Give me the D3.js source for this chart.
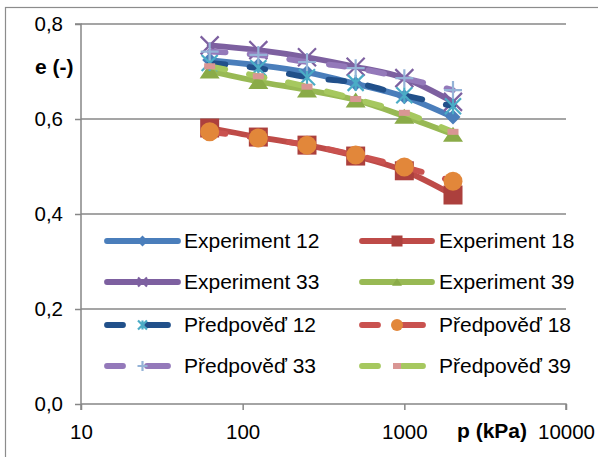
<!DOCTYPE html>
<html><head><meta charset="utf-8">
<script src="https://cdn.jsdelivr.net/npm/d3@7"></script>
<style>
html,body{margin:0;padding:0;background:#fff;}
svg{display:block;font-family:"Liberation Sans",Arial,sans-serif;}
</style></head>
<body><svg id="c" width="598" height="457"></svg>
<script>
const pressure = [62.5, 125, 250, 500, 1000, 2000];
const exp12  = [0.724, 0.713, 0.698, 0.674, 0.647, 0.604];
const exp18  = [0.581, 0.562, 0.545, 0.522, 0.491, 0.440];
const exp33  = [0.755, 0.745, 0.730, 0.710, 0.686, 0.636];
const exp39  = [0.701, 0.679, 0.661, 0.640, 0.606, 0.568];
const pred12 = [0.718, 0.707, 0.688, 0.676, 0.650, 0.627];
const pred18 = [0.573, 0.560, 0.545, 0.524, 0.499, 0.469];
const pred33 = [0.742, 0.735, 0.720, 0.707, 0.686, 0.661];
const pred39 = [0.711, 0.690, 0.668, 0.642, 0.613, 0.573];
const seriesNames = ["Experiment 12","Experiment 18","Experiment 33","Experiment 39",
                     "Předpověď 12","Předpověď 18","Předpověď 33","Předpověď 39"];
const xTicks = [10, 100, 1000, 10000];
const yTicks = [0, 0.2, 0.4, 0.6, 0.8];

const series = [
  {name: seriesNames[0], v: exp12,  line:"#4A7EBB", dash:false, m:"diamond",  mc:"#4A7EBB", ms:15, lms:11},
  {name: seriesNames[1], v: exp18,  line:"#BE4B48", dash:false, m:"square",   mc:"#AC403D", ms:19, lms:11},
  {name: seriesNames[2], v: exp33,  line:"#7D60A0", dash:false, m:"x",        mc:"#7D60A0", ms:18, lms:9},
  {name: seriesNames[3], v: exp39,  line:"#98B954", dash:false, m:"triangle", mc:"#8AAB48", ms:20, lms:10},
  {name: seriesNames[4], v: pred12, line:"#21508A", dash:true,  m:"star",     mc:"#4BACC6", ms:16, lms:9},
  {name: seriesNames[5], v: pred18, line:"#C9524F", dash:true,  m:"circle",   mc:"#E2873A", ms:19, lms:12},
  {name: seriesNames[6], v: pred33, line:"#9479BA", dash:true,  m:"plus",     mc:"#95B3D7", ms:18, lms:10},
  {name: seriesNames[7], v: pred39, line:"#A6C85F", dash:true,  m:"dash",     mc:"#D99694", ms:11, lms:8}
];

const svg = d3.select("#c");
const L = 81, R = 566, T = 24, B = 404;
const x = d3.scaleLog().domain([10, 10000]).range([L, R]);
const y = d3.scaleLinear().domain([0, 0.8]).range([B, T]);
const grid = "#878787";

// outer frame
svg.append("rect").attr("x",5.5).attr("y",7.5).attr("width",620).attr("height",480)
  .attr("fill","none").attr("stroke","#8c8c8c").attr("stroke-width",1.2);

// gridlines
svg.append("g").selectAll("line").data(yTicks.filter(d=>d>0)).join("line")
  .attr("x1",L).attr("x2",R).attr("y1",d=>y(d)).attr("y2",d=>y(d))
  .attr("stroke",grid).attr("stroke-width",1.5);

// axes
const yAxis = d3.axisLeft(y).tickValues(yTicks).tickSize(6).tickPadding(12)
  .tickFormat(d=>d3.format(".1f")(d).replace(".",","));
const gy = svg.append("g").attr("transform",`translate(${L},0)`).call(yAxis);
const xAxis = d3.axisBottom(x).tickValues(xTicks).tickSize(6).tickPadding(14)
  .tickFormat(d3.format("d"));
const gx = svg.append("g").attr("transform",`translate(0,${B})`).call(xAxis);
[gy,gx].forEach(g=>{
  g.select(".domain").attr("stroke",grid).attr("stroke-width",1.5);
  g.selectAll(".tick line").attr("stroke",grid).attr("stroke-width",1.5);
  g.selectAll("text").attr("font-size",20.5).attr("fill","#000")
    .attr("font-family",'"Liberation Sans",Arial,sans-serif');
});
gy.select(".domain").attr("d",`M-6,${T}H0V${B+6}`);
gx.select(".domain").attr("d",`M${L},0H${R}V6`);
gx.selectAll("text").attr("dy","0.71em");

// axis titles
svg.append("text").attr("x",35).attr("y",74).attr("font-size",21).attr("font-weight","bold").text("e (-)");
svg.append("text").attr("x",457).attr("y",438).attr("font-size",21).attr("font-weight","bold").text("p (kPa)");

function marker(g, type, cx, cy, s, color){
  const h = s/2;
  switch(type){
    case "diamond":
      g.append("path").attr("d",`M${cx},${cy-h}L${cx+h},${cy}L${cx},${cy+h}L${cx-h},${cy}Z`).attr("fill",color); break;
    case "square":
      g.append("rect").attr("x",cx-h).attr("y",cy-h).attr("width",s).attr("height",s).attr("fill",color); break;
    case "triangle":
      g.append("path").attr("d",`M${cx},${cy-h*0.75}L${cx+h},${cy+h*0.75}L${cx-h},${cy+h*0.75}Z`).attr("fill",color); break;
    case "circle":
      g.append("circle").attr("cx",cx).attr("cy",cy).attr("r",h).attr("fill",color); break;
    case "x":
      g.append("path").attr("d",`M${cx-h},${cy-h}L${cx+h},${cy+h}M${cx-h},${cy+h}L${cx+h},${cy-h}`)
        .attr("stroke",color).attr("stroke-width",2.2).attr("fill","none"); break;
    case "star":
      g.append("path").attr("d",`M${cx-h},${cy-h}L${cx+h},${cy+h}M${cx-h},${cy+h}L${cx+h},${cy-h}M${cx},${cy-h}L${cx},${cy+h}`)
        .attr("stroke",color).attr("stroke-width",2.2).attr("fill","none"); break;
    case "plus":
      g.append("path").attr("d",`M${cx-h},${cy}L${cx+h},${cy}M${cx},${cy-h}L${cx},${cy+h}`)
        .attr("stroke",color).attr("stroke-width",2.2).attr("fill","none"); break;
    case "dash":
      g.append("rect").attr("x",cx-h).attr("y",cy-3).attr("width",s).attr("height",6).attr("fill",color); break;
  }
}

const lineGen = d3.line().x(d=>x(d[0])).y(d=>y(d[1])).curve(d3.curveCardinal.tension(0));
const plot = svg.append("g");
series.forEach(s=>{
  const pts = pressure.map((p,i)=>[p, s.v[i]]);
  const g = plot.append("g");
  const path = g.append("path").attr("d",lineGen(pts)).attr("fill","none")
    .attr("stroke",s.line).attr("stroke-width",5.8).attr("stroke-linecap","round").attr("stroke-linejoin","round");
  if(s.dash) path.attr("stroke-dasharray","16,24");
  pts.forEach(p=>marker(g, s.m, x(p[0]), y(p[1]), s.ms, s.mc));
});

// legend
const legRows = [241, 282, 325, 366];
const legCols = [{x0:107,x1:178,tx:184},{x0:362,x1:432,tx:439}];
series.forEach((s,i)=>{
  const r = Math.floor(i/2) % 2 + (i>=4?2:0);
  const c = i % 2;
  const col = legCols[c], ry = legRows[r];
  const g = svg.append("g");
  if(s.dash){
    g.append("path").attr("d",`M${col.x0},${ry}H${col.x0+16}M${col.x0+40},${ry}H${col.x0+61}`)
      .attr("stroke",s.line).attr("stroke-width",5.8).attr("stroke-linecap","round");
  } else {
    g.append("path").attr("d",`M${col.x0},${ry}H${col.x1}`)
      .attr("stroke",s.line).attr("stroke-width",5.8).attr("stroke-linecap","round");
  }
  marker(g, s.m, (col.x0+col.x1)/2, ry, s.lms, s.mc);
  g.append("text").attr("x",col.tx).attr("y",ry).attr("dy","0.35em").attr("font-size",21).text(s.name);
});
</script></body></html>
